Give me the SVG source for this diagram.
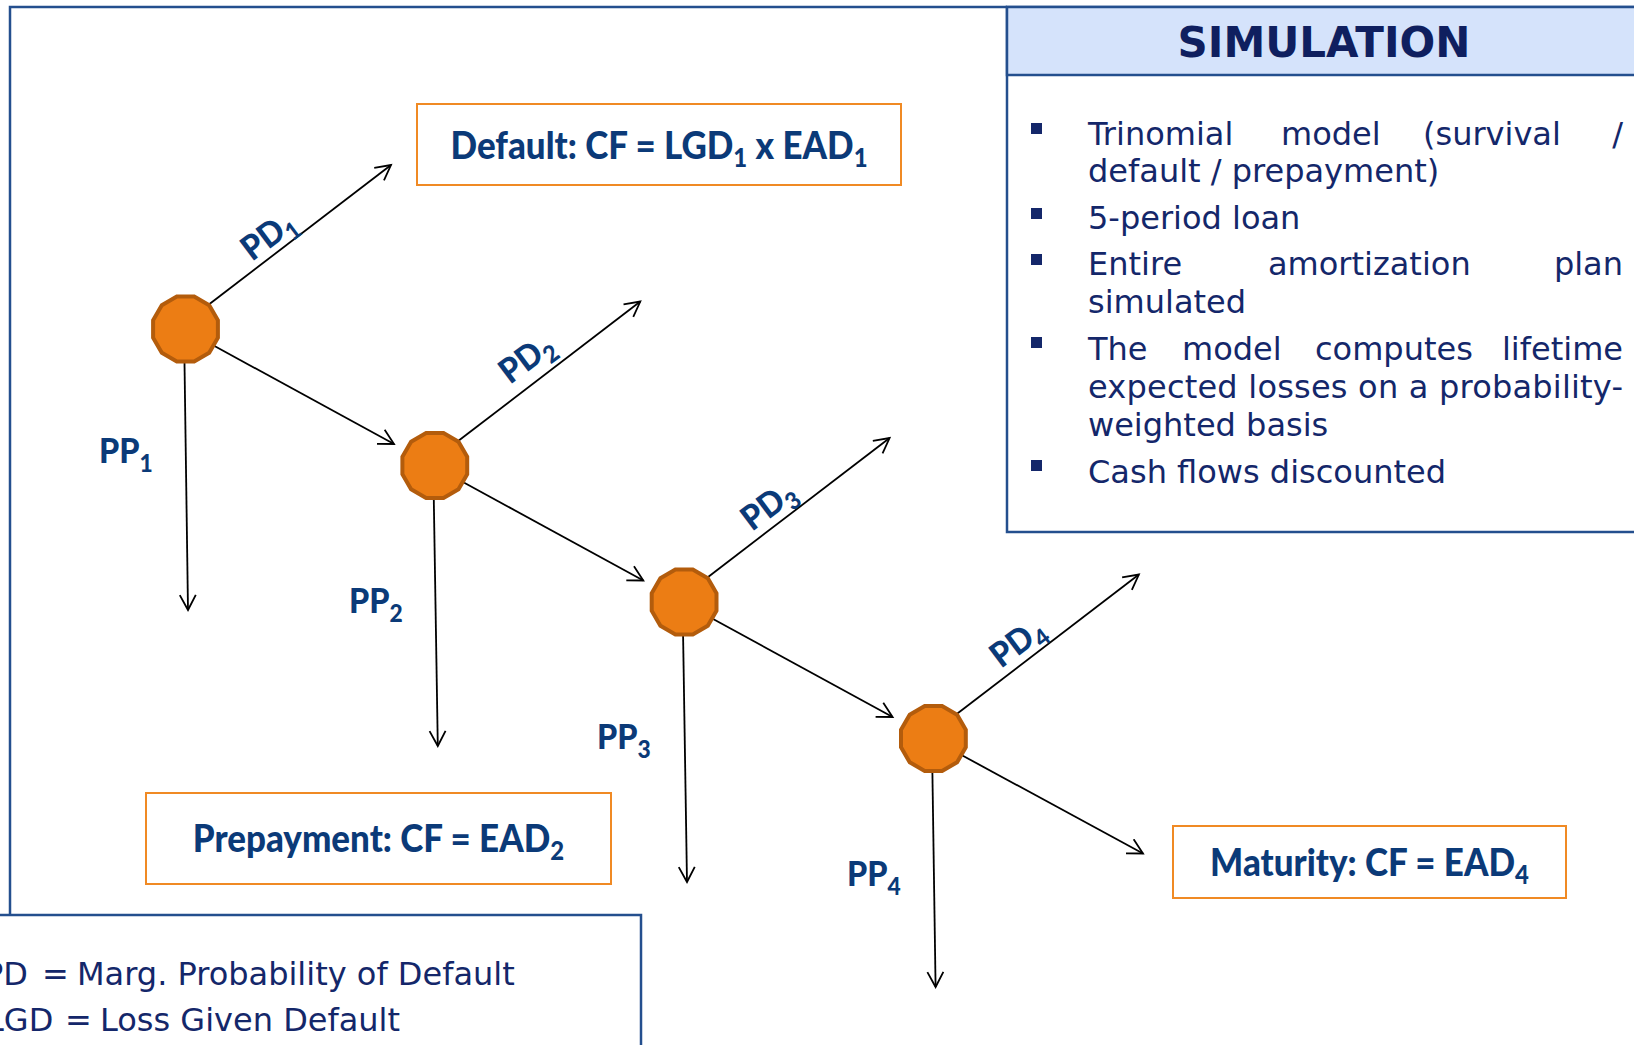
<svg xmlns="http://www.w3.org/2000/svg" width="1634" height="1045" viewBox="0 0 1634 1045">
<style>
.lbl{font-family:Lato,"Open Sans","Liberation Sans",sans-serif;font-weight:900;fill:#0b3a78;font-size:34px}
.big{font-size:38px}
.sub{font-size:24px}
.bsub{font-size:26px}
.sim{font-family:"DejaVu Sans",Verdana,sans-serif;font-size:32px;fill:#14276a}
.ttl{font-family:"DejaVu Sans",Verdana,sans-serif;font-size:42px;font-weight:bold;fill:#0f1f5f}
.frame{fill:none;stroke:#244f8e;stroke-width:2.5}
.panel{fill:#fff;stroke:#244f8e;stroke-width:2.5}
.box{fill:#fff;stroke:#f08a24;stroke-width:2}
.node{fill:#ec7d14;stroke:#b35c0c;stroke-width:4}
.arr{stroke:#000;stroke-width:1.8;fill:none;marker-end:url(#ah)}
.bul{fill:#14276a}
</style>
<defs>
<marker id="ah" markerUnits="userSpaceOnUse" markerWidth="20" markerHeight="20" refX="16" refY="9" orient="auto">
<path d="M1,1 L16,9 L1,17" fill="none" stroke="#000" stroke-width="1.8"/>
</marker>
<polygon id="dodec" points="32.4,8.7 23.7,23.7 8.7,32.4 -8.7,32.4 -23.7,23.7 -32.4,8.7 -32.4,-8.7 -23.7,-23.7 -8.7,-32.4 8.7,-32.4 23.7,-23.7 32.4,-8.7"/>
</defs>
<rect width="1634" height="1045" fill="#fff"/>
<path class="frame" d="M10,915 V7 H1007"/>

<g id="simulation">
<rect class="panel" x="1007" y="7" width="640" height="525"/>
<rect x="1007" y="7" width="640" height="68" fill="#d5e3fb" stroke="#244f8e" stroke-width="2.5"/>
<text class="ttl" x="1324" y="57" text-anchor="middle">SIMULATION</text>
<rect class="bul" x="1031" y="123" width="11" height="11"/>
<rect class="bul" x="1031" y="208" width="11" height="11"/>
<rect class="bul" x="1031" y="254" width="11" height="11"/>
<rect class="bul" x="1031" y="337" width="11" height="11"/>
<rect class="bul" x="1031" y="460" width="11" height="11"/>
<text class="sim" y="145"><tspan x="1088">Trinomial</tspan><tspan x="1281">model</tspan><tspan x="1423">(survival</tspan></text>
<text class="sim" x="1623" y="145" text-anchor="end">/</text>
<text class="sim" x="1088" y="182">default / prepayment)</text>
<text class="sim" x="1088" y="229">5-period loan</text>
<text class="sim" y="275"><tspan x="1088">Entire</tspan><tspan x="1268">amortization</tspan></text>
<text class="sim" x="1623" y="275" text-anchor="end">plan</text>
<text class="sim" x="1088" y="313">simulated</text>
<text class="sim" y="359.5"><tspan x="1088">The</tspan><tspan x="1182">model</tspan><tspan x="1315">computes</tspan></text>
<text class="sim" x="1623" y="359.5" text-anchor="end">lifetime</text>
<text class="sim" x="1088" y="398" textLength="535" lengthAdjust="spacing">expected losses on a probability-</text>
<text class="sim" x="1088" y="435.5">weighted basis</text>
<text class="sim" x="1088" y="482.5">Cash flows discounted</text>
</g>

<g id="legend">
<rect class="panel" x="-10" y="915" width="651" height="150"/>
<text class="sim" y="985"><tspan x="-16">PD</tspan><tspan x="42">=</tspan><tspan x="77">Marg. Probability of Default</tspan></text>
<text class="sim" y="1031"><tspan x="-14">LGD</tspan><tspan x="65">=</tspan><tspan x="100">Loss Given Default</tspan></text>
</g>

<g id="connectors">
<line class="arr" x1="209.5" y1="304" x2="391" y2="165"/>
<line class="arr" x1="214.5" y1="346" x2="394" y2="444"/>
<line class="arr" x1="184.5" y1="363" x2="188" y2="610"/>
<line class="arr" x1="458.8" y1="440.5" x2="640.3" y2="301.5"/>
<line class="arr" x1="463.8" y1="482.5" x2="643.3" y2="580.5"/>
<line class="arr" x1="433.8" y1="499.5" x2="437.8" y2="746"/>
<line class="arr" x1="708.1" y1="577" x2="889.6" y2="438"/>
<line class="arr" x1="713.1" y1="619" x2="892.6" y2="717"/>
<line class="arr" x1="683.1" y1="636" x2="687" y2="882"/>
<line class="arr" x1="957.4" y1="713.5" x2="1138.9" y2="574.5"/>
<line class="arr" x1="962.4" y1="755.5" x2="1143" y2="853.5"/>
<line class="arr" x1="932.4" y1="772.5" x2="935.6" y2="987"/>
</g>

<g id="node1"><use href="#dodec" class="node" x="185.5" y="329"/></g>
<g id="node2"><use href="#dodec" class="node" x="434.8" y="465.5"/></g>
<g id="node3"><use href="#dodec" class="node" x="684.1" y="602"/></g>
<g id="node4"><use href="#dodec" class="node" x="933.4" y="738.5"/></g>

<g id="labels">
<text class="lbl" transform="translate(268,235) rotate(-37) scale(0.95,1)" text-anchor="middle" y="12">PD<tspan class="sub" dy="8">1</tspan></text>
<text class="lbl" transform="translate(526,358) rotate(-37) scale(0.95,1)" text-anchor="middle" y="12">PD<tspan class="sub" dy="8">2</tspan></text>
<text class="lbl" transform="translate(768,505) rotate(-37) scale(0.95,1)" text-anchor="middle" y="12">PD<tspan class="sub" dy="8">3</tspan></text>
<text class="lbl" transform="translate(1017,642) rotate(-37) scale(0.95,1)" text-anchor="middle" y="12">PD<tspan class="sub" dy="8">4</tspan></text>
<text class="lbl" transform="translate(99,463) scale(0.95,1)">PP<tspan class="sub" dy="9">1</tspan></text>
<text class="lbl" transform="translate(349,613) scale(0.95,1)">PP<tspan class="sub" dy="9">2</tspan></text>
<text class="lbl" transform="translate(597,749) scale(0.95,1)">PP<tspan class="sub" dy="9">3</tspan></text>
<text class="lbl" transform="translate(847,886) scale(0.95,1)">PP<tspan class="sub" dy="9">4</tspan></text>
</g>

<g id="default-box">
<rect class="box" x="417" y="104" width="484" height="81"/>
<text class="lbl big" transform="translate(659,158.5) scale(0.92,1)" text-anchor="middle">Default: CF = LGD<tspan class="bsub" dy="8">1</tspan><tspan dy="-8"> x EAD</tspan><tspan class="bsub" dy="8">1</tspan></text>
</g>
<g id="prepayment-box">
<rect class="box" x="146" y="793" width="465" height="91"/>
<text class="lbl big" transform="translate(378.5,852) scale(0.92,1)" text-anchor="middle">Prepayment: CF = EAD<tspan class="bsub" dy="8">2</tspan></text>
</g>
<g id="maturity-box">
<rect class="box" x="1173" y="826" width="393" height="72"/>
<text class="lbl big" transform="translate(1369.5,875.5) scale(0.92,1)" text-anchor="middle">Maturity: CF = EAD<tspan class="bsub" dy="8">4</tspan></text>
</g>
</svg>
